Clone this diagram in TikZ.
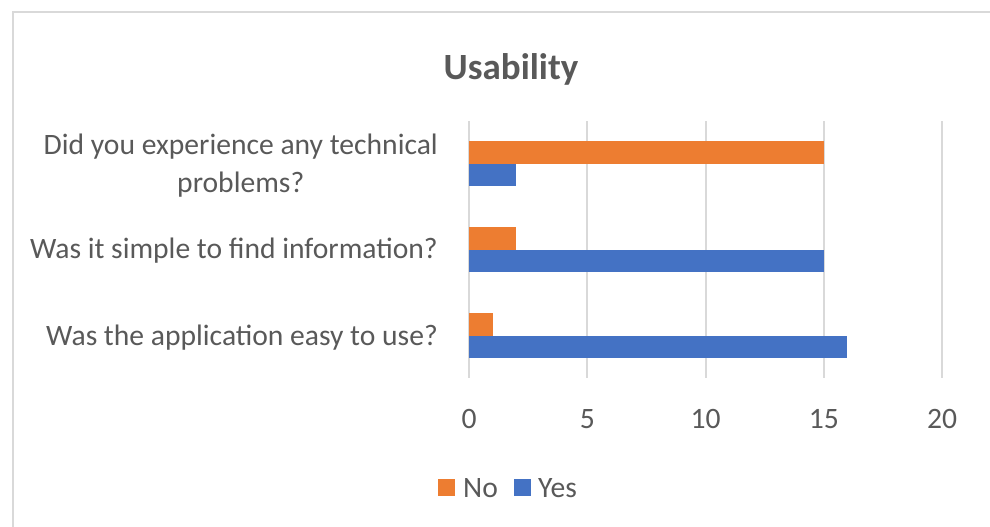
\documentclass[tikz,border=0pt]{standalone}
\usepackage{fontspec}
\setmainfont{Carlito}
\usetikzlibrary{positioning}
\definecolor{nocol}{HTML}{ED7D31}
\definecolor{yescol}{HTML}{4472C4}
\definecolor{gridcol}{HTML}{D9D9D9}
\definecolor{txtcol}{HTML}{595959}
\tikzset{
  lbl/.style={text=txtcol, inner sep=0pt, font=\fontsize{29.6}{38}\selectfont},
  ttl/.style={text=txtcol, inner sep=0pt, font=\fontsize{37}{44}\selectfont\bfseries},
  gridln/.style={gridcol, line width=2pt},
  nobar/.style={fill=nocol},
  yesbar/.style={fill=yescol}
}

\begin{document}
\begin{tikzpicture}[x=1pt, y=-1pt]
\useasboundingbox (0,0) rectangle (990,527);
\draw [gridcol, line width=2pt] (12.5,527) -- (12.5,12.5) -- (990,12.5);
\node [ttl, anchor=base] (title) at (511,80) {Usability};
% value axis, 23.65 per unit
\foreach \v in {0,5,10,15,20} {
  \draw [gridln] ({469+23.65*\v},121) -- ({469+23.65*\v},378);
  \node [lbl, anchor=base] (t\v) at ({469+23.65*\v},428.5) {\v};
}
% bars
\fill [nobar] (469,141) rectangle ({469+23.65*15},163.5);
\fill [yesbar] (469,163.5) rectangle ({469+23.65*2},186);
\fill [nobar] (469,227) rectangle ({469+23.65*2},249.5);
\fill [yesbar] (469,249.5) rectangle ({469+23.65*15},272);
\fill [nobar] (469,313) rectangle ({469+23.65*1},335.5);
\fill [yesbar] (469,335.5) rectangle ({469+23.65*16},358);
% categories
\node [lbl, anchor=base east, align=center] (q1) at (438,192) {Did you experience any technical\\problems?};
\node [lbl, anchor=base east] (q2) at (438,258) {Was it simple to find information?};
\node [lbl, anchor=base east] (q3) at (438,345) {Was the application easy to use?};
% legend
\fill [nobar] (438,479) rectangle (455,496);
\node [lbl, anchor=base west] (legno) at (463,497) {No};
\fill [yesbar] (514,479) rectangle (531,496);
\node [lbl, anchor=base west] (legyes) at (538,497) {Yes};
\end{tikzpicture}
\end{document}
